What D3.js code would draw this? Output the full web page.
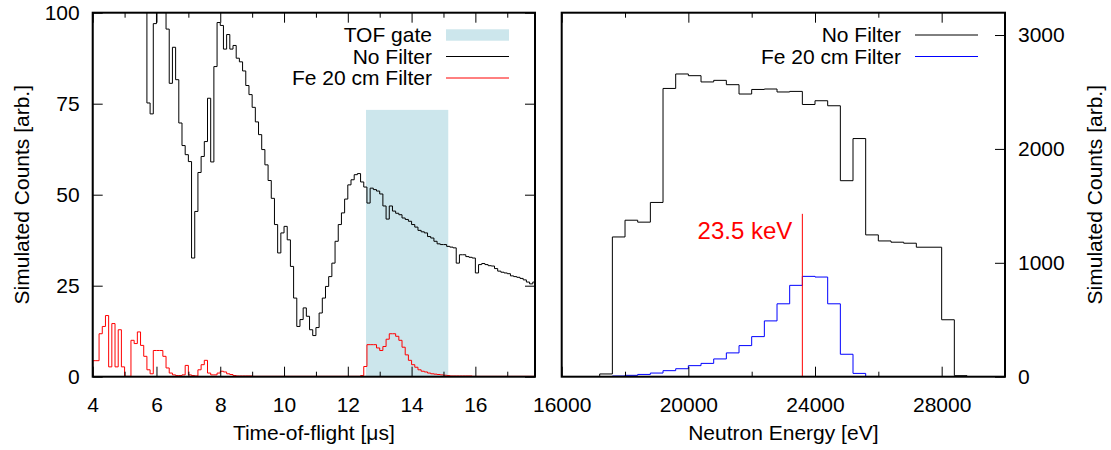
<!DOCTYPE html>
<html>
<head>
<meta charset="utf-8">
<script src="https://cdn.jsdelivr.net/npm/d3@7"></script>
<style>
  body { margin: 0; background: #fff; }
  svg text { font-family: "Liberation Sans", Arial, Helvetica, sans-serif; font-size: 21px; fill: #000; }
</style>
</head>
<body>
<svg id="chart" width="1111" height="450"></svg>
<script>
// ── Data: time-of-flight panel (bins of 0.1 µs from 4 µs) ─────────
const tofStart = 4.0;
const tofBinWidth = 0.1;
const noFilterTof = [
  140, 150, 160, 170, 165, 160, 150, 145, 140, 135, 130, 125, 120, 118, 115, 112, 108,
  75.2, 72.2, 97, 105, 110, 104, 95.5, 80.6, 90.5, 81.6, 69.7, 63.5, 61, 59.1,
  32.6, 45.4, 56.1, 60.5, 64.6, 76.5, 59, 85.2, 97.3, 96.5, 90, 94, 90, 91,
  87.5, 86.5, 84, 80, 77.5, 74, 70, 66.5, 62.4, 58.2, 53.9, 49, 41.8, 34,
  39.5, 41.3, 37.6, 30.3, 21.6, 13.8, 15.7, 18.9, 16.6, 12.9, 11.3, 13.5, 17.5,
  21.6, 24.8, 27.5, 31.2, 37.2, 41.8, 45, 48.8, 52.7, 54.1, 55.5, 55.8, 53.5,
  52.1, 47.7, 51.8, 51.4, 51, 50.2, 46.9, 43.3, 46.9, 45.5, 44.9, 44.5, 43.6,
  43.2, 42.7, 41.8, 41.1, 40.2, 39.8, 39.5, 38.5, 38.1, 37.2, 36.5, 36.3, 36.3,
  35.8, 35.6, 35.4, 31.2, 33.5, 33.5, 33, 32.8, 32.6, 28.5, 30.8, 31.1, 30.8,
  30.5, 30.4, 29.7, 29, 28.7, 28.5, 28.3, 27.7, 27.5, 27.3, 27, 26.6, 26, 25.5, 26
];
const feFilterTof = [
  4.4, 4.4, 11.8, 13.8, 16.8, 2.7, 14.6, 2.7, 12.9, 2.7, 0.1, 0.1, 10, 9.1, 12.3,
  8.6, 5.6, 1.9, 0.8, 7.2, 7.2, 7.2, 5.6, 2.4, 1, 0.5, 0.3, 0.3, 0.5, 3.1, 0.5,
  0.3, 0.2, 1.9, 3.3, 4.5, 1, 0.5, 0.5, 1, 1.5, 1.3, 0.8, 0.6, 0.3,
  0.2, 0.2, 0.2, 0.2, 0.2, 0.1, 0.1, 0.1, 0.1, 0.1, 0.1, 0.1, 0.1, 0.1, 0.1, 0.1,
  0.1, 0.1, 0.1, 0.1, 0.1, 0.1, 0.1, 0.1, 0.1, 0.1, 0.1, 0.1, 0.1, 0.1, 0.1, 0.1,
  0.1, 0.1, 0.1, 0.1, 0.1, 0.1, 0.1,
  0.3, 2.8, 8.8, 8.8, 8.8, 7.9, 7.2, 8.3, 10.3, 11.8, 11.8, 11.1, 10, 8.1, 6,
  4.5, 3.3, 2.6, 1.9, 1.5, 1.3, 1, 0.8, 0.7, 0.6, 0.5, 0.4, 0.3,
  0.2, 0.2, 0.2, 0.2, 0.2, 0.2, 0.2,
  0.1, 0.1, 0.1, 0.1, 0.1, 0.1, 0.1, 0.1, 0.1, 0.1, 0.1, 0.1, 0.1, 0.1, 0.1, 0.1,
  0.1, 0.1, 0.1, 0.1
];
const tofDomain = [4, 17.87];
const tofGate = [12.57, 15.15];
const tofGateTop = 73.3;
const tofMajorTicks = [4, 6, 8, 10, 12, 14, 16];
const tofMinorTicks = [5, 7, 9, 11, 13, 15, 17];
const tofCountTicks = [0, 25, 50, 75, 100];

// ── Data: neutron energy panel (bins of 400 eV from 16000 eV) ────
const energyStart = 16000;
const energyBinWidth = 400;
const noFilterEnergy = [
  0, 0, 0, 24, 1227, 1374, 1357, 1530, 2531, 2658, 2643, 2588, 2602, 2564,
  2482, 2522, 2526, 2500, 2505, 2390, 2423, 2379, 1721, 2091, 1245, 1192,
  1181, 1172, 1137, 1137, 500, 9, 0, 0, 0
];
const feFilterEnergy = [
  0, 0, 0, 0, 6, 12, 20, 32, 53, 70, 97, 117, 156, 209, 273, 352, 490, 640,
  802, 881, 875, 640, 197, 29, 0, 0, 0, 0, 0, 0, 0, 0, 0, 0, 0
];
const energyDomain = [16000, 30000];
const energyMajorTicks = [16000, 20000, 24000, 28000];
const energyMinorTicks = [18000, 22000, 26000];
const energyCountTicks = [0, 1000, 2000, 3000];
const markerEnergy = 23600;
const markerTop = 1430;
const markerLabel = '23.5 keV';

// ── Layout ───────────────────────────────────────────────────────
const plotTop = 12.7, plotBottom = 376.7;
const leftBox = { x0: 92.7, x1: 535 };
const rightBox = { x0: 561.7, x1: 1005 };
const GATE_FILL = '#cce6ec';

const svg = d3.select('#chart');

renderTofPanel();
renderEnergyPanel();

// ── Left panel ───────────────────────────────────────────────────
function renderTofPanel() {
  const x = d3.scaleLinear().domain(tofDomain).range([leftBox.x0, leftBox.x1]);
  const y = d3.scaleLinear().domain([0, 100]).range([plotBottom, plotTop]);
  const g = svg.append('g');

  clip(g, 'clip-tof', leftBox);
  const body = g.append('g').attr('clip-path', 'url(#clip-tof)');

  body.append('rect')
    .attr('x', x(tofGate[0])).attr('width', x(tofGate[1]) - x(tofGate[0]))
    .attr('y', y(tofGateTop)).attr('height', y(0) - y(tofGateTop))
    .attr('fill', GATE_FILL);

  body.append('path')
    .attr('d', stepPath(tofStart, tofBinWidth, noFilterTof, x, y))
    .attr('fill', 'none').attr('stroke', '#000').attr('stroke-width', 1);
  body.append('path')
    .attr('d', stepPath(tofStart, tofBinWidth, feFilterTof, x, y))
    .attr('fill', 'none').attr('stroke', '#ff0000').attr('stroke-width', 1);

  // x axes (inward ticks, mirrored on top)
  g.append('g').attr('transform', `translate(0,${plotBottom})`)
    .call(d3.axisBottom(x).tickValues(tofMajorTicks).tickSize(-10).tickPadding(20).tickFormat(d3.format('d')))
    .call(tidyAxis);
  g.append('g').attr('transform', `translate(0,${plotBottom})`)
    .call(d3.axisBottom(x).tickValues(tofMinorTicks).tickSize(-5).tickFormat(''))
    .call(tidyAxis);
  g.append('g').attr('transform', `translate(0,${plotTop})`)
    .call(d3.axisTop(x).tickValues(tofMajorTicks).tickSize(-10).tickFormat(''))
    .call(tidyAxis);
  g.append('g').attr('transform', `translate(0,${plotTop})`)
    .call(d3.axisTop(x).tickValues(tofMinorTicks).tickSize(-5).tickFormat(''))
    .call(tidyAxis);

  // y axes
  g.append('g').attr('transform', `translate(${leftBox.x0},0)`)
    .call(d3.axisLeft(y).tickValues(tofCountTicks).tickSize(-10).tickPadding(13))
    .call(tidyAxis);
  g.append('g').attr('transform', `translate(${leftBox.x1},0)`)
    .call(d3.axisRight(y).tickValues(tofCountTicks).tickSize(-10).tickFormat(''))
    .call(tidyAxis);

  frame(g, leftBox);

  g.append('text')
    .attr('x', (leftBox.x0 + leftBox.x1) / 2).attr('y', 433).attr('dy', '0.35em')
    .attr('text-anchor', 'middle')
    .text('Time-of-flight [\u03bcs]');
  g.append('text')
    .attr('transform', `translate(22,${(plotTop + plotBottom) / 2}) rotate(-90)`)
    .attr('dy', '0.35em').attr('text-anchor', 'middle')
    .text('Simulated Counts [arb.]');

  // Legend
  const rows = [
    { label: 'TOF gate', kind: 'box', color: GATE_FILL },
    { label: 'No Filter', kind: 'line', color: '#000' },
    { label: 'Fe 20 cm Filter', kind: 'line', color: '#ff0000' },
  ];
  legend(g.append('g'), rows, 432, 446, 509, 35, 21.5);
}

// ── Right panel ──────────────────────────────────────────────────
function renderEnergyPanel() {
  const x = d3.scaleLinear().domain(energyDomain).range([rightBox.x0, rightBox.x1]);
  const y = d3.scaleLinear().domain([0, 3196]).range([plotBottom, plotTop]);
  const g = svg.append('g');

  clip(g, 'clip-energy', rightBox);
  const body = g.append('g').attr('clip-path', 'url(#clip-energy)');

  body.append('path')
    .attr('d', stepPath(energyStart, energyBinWidth, noFilterEnergy, x, y))
    .attr('fill', 'none').attr('stroke', '#000').attr('stroke-width', 1);
  body.append('path')
    .attr('d', stepPath(energyStart, energyBinWidth, feFilterEnergy, x, y))
    .attr('fill', 'none').attr('stroke', '#0000ff').attr('stroke-width', 1);

  body.append('line')
    .attr('x1', x(markerEnergy)).attr('x2', x(markerEnergy))
    .attr('y1', y(0)).attr('y2', y(markerTop))
    .attr('stroke', '#ff0000').attr('stroke-width', 1);

  g.append('text')
    .attr('x', x(markerEnergy) - 10).attr('y', 231).attr('dy', '0.35em')
    .attr('text-anchor', 'end')
    .style('fill', '#ff0000').style('font-size', '24px')
    .text(markerLabel);

  g.append('g').attr('transform', `translate(0,${plotBottom})`)
    .call(d3.axisBottom(x).tickValues(energyMajorTicks).tickSize(-10).tickPadding(20).tickFormat(d3.format('d')))
    .call(tidyAxis);
  g.append('g').attr('transform', `translate(0,${plotBottom})`)
    .call(d3.axisBottom(x).tickValues(energyMinorTicks).tickSize(-5).tickFormat(''))
    .call(tidyAxis);
  g.append('g').attr('transform', `translate(0,${plotTop})`)
    .call(d3.axisTop(x).tickValues(energyMajorTicks).tickSize(-10).tickFormat(''))
    .call(tidyAxis);
  g.append('g').attr('transform', `translate(0,${plotTop})`)
    .call(d3.axisTop(x).tickValues(energyMinorTicks).tickSize(-5).tickFormat(''))
    .call(tidyAxis);

  g.append('g').attr('transform', `translate(${rightBox.x1},0)`)
    .call(d3.axisRight(y).tickValues(energyCountTicks).tickSize(-10).tickPadding(13).tickFormat(d3.format('d')))
    .call(tidyAxis);

  frame(g, rightBox);

  g.append('text')
    .attr('x', (rightBox.x0 + rightBox.x1) / 2).attr('y', 433).attr('dy', '0.35em')
    .attr('text-anchor', 'middle')
    .text('Neutron Energy [eV]');
  g.append('text')
    .attr('transform', `translate(1095,${(plotTop + plotBottom) / 2}) rotate(-90)`)
    .attr('dy', '0.35em').attr('text-anchor', 'middle')
    .text('Simulated Counts [arb.]');

  const rows = [
    { label: 'No Filter', kind: 'line', color: '#000' },
    { label: 'Fe 20 cm Filter', kind: 'line', color: '#0000ff' },
  ];
  legend(g.append('g'), rows, 901, 915, 978, 35, 21.5);
}

// ── Helpers ──────────────────────────────────────────────────────
function stepPath(start, width, values, x, y) {
  const pts = [[start, 0]];
  values.forEach((v, i) => {
    pts.push([start + i * width, v]);
    pts.push([start + (i + 1) * width, v]);
  });
  pts.push([start + values.length * width, 0]);
  return d3.line().x(d => x(d[0])).y(d => y(d[1]))(pts);
}

function tidyAxis(sel) {
  sel.select('.domain').remove();
  sel.selectAll('.tick line').attr('stroke', '#000').attr('stroke-width', 1);
  sel.attr('font-family', null).attr('font-size', null);
}

function clip(g, id, box) {
  g.append('clipPath').attr('id', id)
    .append('rect')
    .attr('x', box.x0).attr('y', plotTop)
    .attr('width', box.x1 - box.x0).attr('height', plotBottom - plotTop);
}

function frame(g, box) {
  g.append('rect')
    .attr('x', box.x0).attr('y', plotTop)
    .attr('width', box.x1 - box.x0).attr('height', plotBottom - plotTop)
    .attr('fill', 'none').attr('stroke', '#000').attr('stroke-width', 2);
}

function legend(g, rows, textRight, s0, s1, y0, dy) {
  rows.forEach((r, i) => {
    const cy = y0 + i * dy;
    g.append('text')
      .attr('x', textRight).attr('y', cy).attr('dy', '0.35em')
      .attr('text-anchor', 'end')
      .text(r.label);
    if (r.kind === 'box') {
      g.append('rect')
        .attr('x', s0).attr('y', cy - 5.7)
        .attr('width', s1 - s0).attr('height', 11.4)
        .attr('fill', r.color);
    } else {
      g.append('line')
        .attr('x1', s0).attr('x2', s1).attr('y1', cy).attr('y2', cy)
        .attr('stroke', r.color).attr('stroke-width', 1);
    }
  });
}
</script>
</body>
</html>
